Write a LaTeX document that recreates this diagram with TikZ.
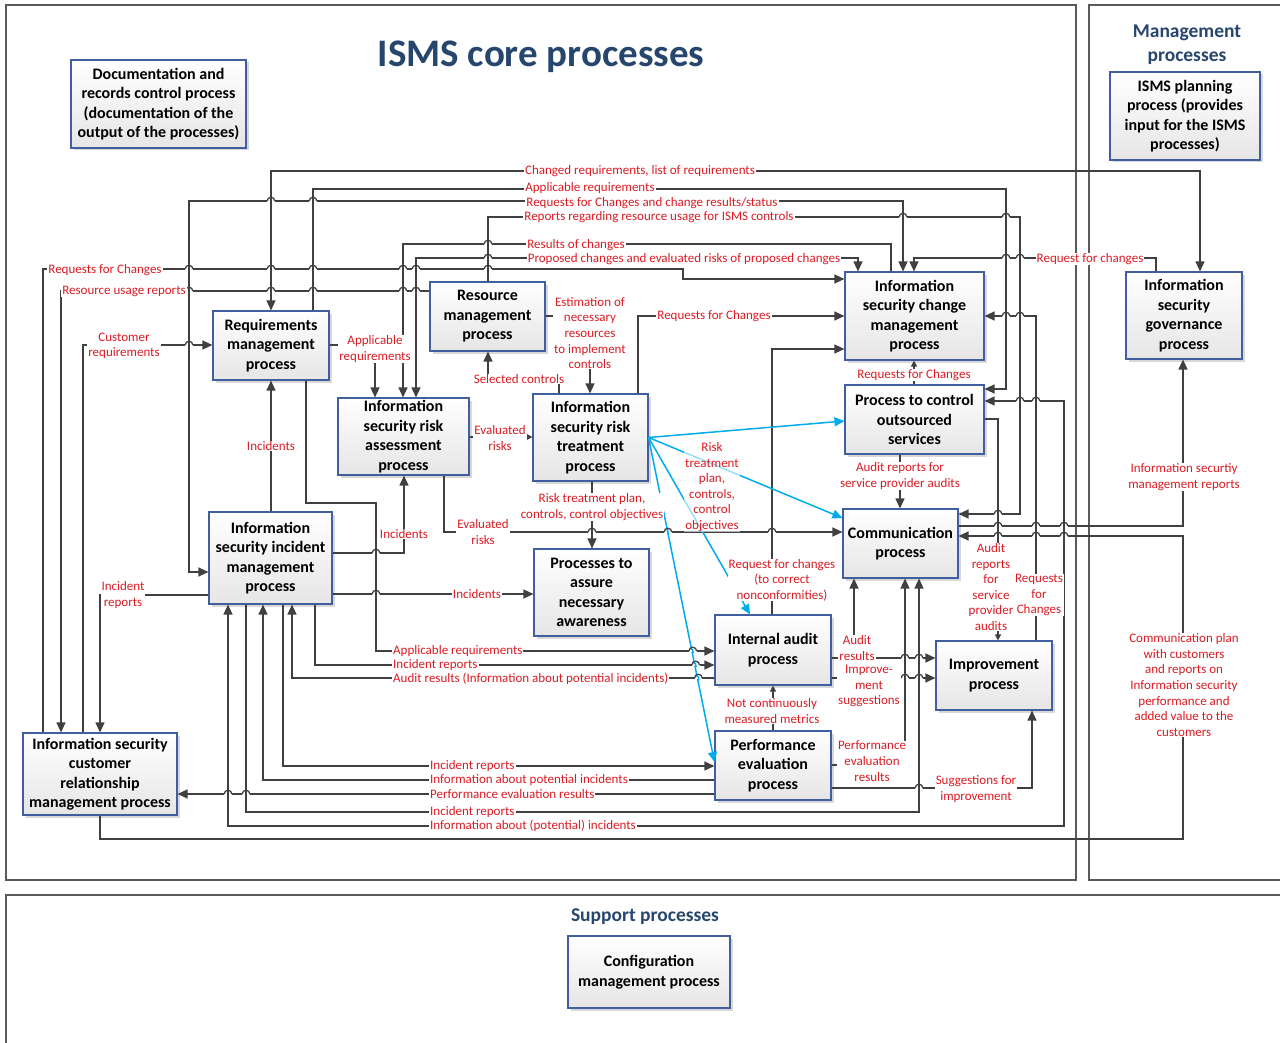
\documentclass[tikz,border=0pt]{standalone}
\usepackage{fontspec}
\setmainfont{Carlito}
\usetikzlibrary{arrows.meta,shadows}
\definecolor{lblc}{RGB}{218,28,36}
\definecolor{bxc}{RGB}{65,95,160}
\definecolor{lnc}{RGB}{64,64,64}
\definecolor{blc}{RGB}{0,172,236}
\definecolor{ttlc}{RGB}{38,70,110}
\definecolor{frc}{RGB}{90,90,90}
\tikzset{
  proc/.style={draw=bxc, line width=1.1pt, top color=white, bottom color=black!10, align=center,
    font=\fontsize{16}{19.5}\selectfont\bfseries, inner sep=0pt,
    drop shadow={shadow xshift=2.5pt, shadow yshift=-2.5pt, fill=black!30, opacity=0.5}},
  conn/.style={draw=lnc, line width=1.3pt},
  arr/.style={conn, -{Triangle[length=10pt,width=9pt]}},
  sarr/.style={conn, -{Triangle[length=6pt,width=6pt]}},
  darr/.style={conn, {Triangle[length=10pt,width=9pt]}-{Triangle[length=10pt,width=9pt]}},
  barr/.style={draw=blc, line width=1.5pt, -{Triangle[length=10pt,width=9pt]}},
  lab/.style={fill=white, inner xsep=1pt, inner ysep=0.3pt, text=lblc, font=\fontsize{13}{15.6}\selectfont, align=center},
  frm/.style={draw=frc, line width=1.3pt},
  hd/.style={text=ttlc, font=\fontsize{19.5}{24}\selectfont\bfseries, align=center}
}
\newcommand\hop[2]{%
  \fill[white] ({#1-3.8},{#2-1.3}) rectangle ({#1+3.8},{#2+1.3});
  \draw[conn] (#1,{#2-2}) -- (#1,{#2+2});
  \draw[draw=lnc, line width=1.3pt] ({#1-3.8},#2) arc[start angle=180,end angle=360,radius=3.8];}
\newcommand\bhop[2]{%
  \fill[white] ({#1-3.8},{#2-1.3}) rectangle ({#1+3.8},{#2+1.3});
  \draw[draw=blc, line width=1.5pt] ({#1-0.45},{#2-2}) -- ({#1+0.45},{#2+2});
  \draw[draw=lnc, line width=1.3pt] ({#1-3.8},#2) arc[start angle=180,end angle=360,radius=3.8];}
\begin{document}
\begin{tikzpicture}[x=1pt,y=-1pt]
\useasboundingbox (0,0) rectangle (1280,1043);
\clip (0,0) rectangle (1280,1043);
% frames
\draw[frm] (6,5) rectangle (1076,880);
\draw[frm] (1089,5) rectangle (1300,880);
\draw[frm] (6,895) rectangle (1300,1070);
% headings
\node[text=ttlc, font=\fontsize{39}{42}\selectfont\bfseries] (title) at (541,57) {ISMS core processes};
\node[hd] (mgmt) at (1187,45) {Management\\processes};
\node[hd] (supp) at (645,917) {Support processes};
% boxes
\node[proc, minimum width=175pt, minimum height=88pt] (docs) at (158.5,104) {Documentation and\\records control process\\(documentation of the\\output of the processes)};
\node[proc, minimum width=150pt, minimum height=88pt] (plan) at (1185,116) {ISMS planning\\process (provides\\input for the ISMS\\processes)};
\node[proc, minimum width=116pt, minimum height=69pt] (req) at (271,345.5) {Requirements\\management\\process};
\node[proc, minimum width=115pt, minimum height=69pt] (res) at (487.5,316.5) {Resource\\management\\process};
\node[proc, minimum width=131pt, minimum height=77pt] (assess) at (403.5,436.5) {Information\\security risk\\assessment\\process};
\node[proc, minimum width=115pt, minimum height=87pt] (treat) at (590.5,437.5) {Information\\security risk\\treatment\\process};
\node[proc, minimum width=139pt, minimum height=88pt] (change) at (914.5,316) {Information\\security change\\management\\process};
\node[proc, minimum width=139pt, minimum height=69pt] (outs) at (914.5,419.5) {Process to control\\outsourced\\services};
\node[proc, minimum width=116pt, minimum height=87pt] (gov) at (1184,315.5) {Information\\security\\governance\\process};
\node[proc, minimum width=115pt, minimum height=69pt] (comm) at (900.5,543.5) {Communication\\process};
\node[proc, minimum width=116pt, minimum height=69pt] (impr) at (994,675.5) {Improvement\\process};
\node[proc, minimum width=123pt, minimum height=92pt] (incid) at (270.5,558) {Information\\security incident\\management\\process};
\node[proc, minimum width=115pt, minimum height=87pt] (aware) at (591.5,592.5) {Processes to\\assure\\necessary\\awareness};
\node[proc, minimum width=116pt, minimum height=70pt] (audit) at (773,650) {Internal audit\\process};
\node[proc, minimum width=116pt, minimum height=69pt] (perf) at (773,765.5) {Performance\\evaluation\\process};
\node[proc, minimum width=154pt, minimum height=82pt] (cust) at (100,774) {Information security\\customer\\relationship\\management process};
\node[proc, minimum width=162pt, minimum height=72pt] (config) at (649,972) {Configuration\\management process};
% connectors
\draw[darr] (271,0 |- req.north) |- (1200,171) -- (1200,0 |- gov.north);
\draw[arr] (313,0 |- req.north) |- (1006,189) -- (1006,389) -- (outs.east |- 0,389);
\draw[darr] (incid.west |- 0,572) -| (189,201) -| (903,0 |- change.north);
\draw[arr] (488,0 |- res.north) |- (1020,217) |- (comm.east |- 0,514);
\draw[arr] (891,0 |- change.north) |- (403,244) -- (403,0 |- assess.north);
\draw[darr] (416,0 |- assess.north) |- (858,258) -- (858,0 |- change.north);
\draw[arr] (1156,0 |- gov.north) |- (914,258) -- (914,0 |- change.north);
\draw[arr] (43,0 |- cust.north) |- (683,269) |- (change.west |- 0,279);
\draw[arr] (res.west |- 0,291) -| (61,0 |- cust.north);
\draw[arr] (83,0 |- cust.north) |- (req.west |- 0,345);
\draw[arr] (req.east |- 0,345) -| (375,0 |- assess.north);
\draw[arr] (res.east |- 0,316) -| (590,0 |- treat.north);
\draw[arr] (559,0 |- treat.north) |- (488,379) -- (488,0 |- res.south);
\draw[arr] (638,0 |- treat.north) |- (change.west |- 0,316);
\draw[arr] (772,0 |- audit.north) |- (change.west |- 0,349);
\draw[sarr] (914,0 |- outs.north) -- (914,0 |- change.south);
\draw[arr] (900,0 |- outs.south) -- (900,0 |- comm.north);
\draw[sarr] (outs.east |- 0,419) -| (998,0 |- impr.north);
\draw[arr] (1036,0 |- impr.north) |- (change.east |- 0,316);
\draw[darr] (outs.east |- 0,401) -| (1064,826) -| (228,0 |- incid.south);
\draw[arr] (246,0 |- incid.south) |- (919,812) -- (919,0 |- comm.south);
\draw[arr] (perf.west |- 0,794) -- (cust.east |- 0,794);
\draw[arr] (perf.west |- 0,780) -| (263,0 |- incid.south);
\draw[arr] (283,0 |- incid.south) |- (perf.west |- 0,766);
\draw[arr] (100,0 |- cust.south) |- (1183,839) |- (comm.east |- 0,536);
\draw[arr] (comm.east |- 0,526) -| (1183,0 |- gov.south);
\draw[arr] (271,0 |- incid.north) -- (271,0 |- req.south);
\draw[arr] (incid.east |- 0,553) -| (404,0 |- assess.south);
\draw[arr] (incid.east |- 0,594) -- (aware.west |- 0,594);
\draw[arr] (306,0 |- req.south) |- (376,503) |- (audit.west |- 0,651);
\draw[arr] (315,0 |- incid.south) |- (audit.west |- 0,665);
\draw[arr] (audit.west |- 0,678) -| (292,0 |- incid.south);
\draw[sarr] (assess.east |- 0,437) -- (treat.west |- 0,437);
\draw[arr] (444,0 |- assess.south) |- (comm.west |- 0,532);
\draw[arr] (592,0 |- treat.south) -- (592,0 |- aware.north);
\draw[sarr] (773,0 |- perf.north) -- (773,0 |- audit.south);
\coordinate (j1) at (854,658);
\draw[conn] (audit.east |- 0,658) -- (j1);
\draw[arr] (j1) -- (854,0 |- comm.south);
\draw[arr] (j1) -- (impr.west |- 0,658);
\draw[arr] (audit.east |- 0,678) -- (impr.west |- 0,678);
\draw[arr] (perf.east |- 0,765) -| (905,0 |- comm.south);
\draw[arr] (perf.east |- 0,788) -| (1032,0 |- impr.south);
\draw[arr] (incid.west |- 0,595) -| (100,0 |- cust.north);
% blue connectors
\draw[barr] (treat.east) -- (outs.west |- 0,421);
\draw[barr] (treat.east) -- (comm.west |- 0,518);
\draw[barr] (treat.east) -- (750,0 |- audit.north);
\draw[barr] (treat.east) -- (perf.west |- 0,762);
% line jumps
\foreach \a/\b in {271/201,313/201,903/217,1006/217,488/244,488/258,1006/258,1020/258,
  189/269,271/269,313/269,403/269,416/269,488/269,189/291,271/291,313/291,403/291,416/291,
  1006/316,1020/316,189/345,1020/401,1036/401,998/514,998/526,1036/526,1064/526,
  998/536,1036/536,1064/536,592/532,772/532,376/553,376/594,905/658,919/658,905/678,919/678,
  919/788,228/794,246/794}{\hop{\a}{\b}}
\foreach \a/\b in {667.9/532,692.8/651,695.7/665,698.4/678}{\bhop{\a}{\b}}
% labels
\node[lab] at (640,171) {Changed requirements, list of requirements};
\node[lab] at (590,188) {Applicable requirements};
\node[lab] at (652,203) {Requests for Changes and change results/status};
\node[lab] at (659,217) {Reports regarding resource usage for ISMS controls};
\node[lab] at (576,245) {Results of changes};
\node[lab] at (684,259) {Proposed changes and evaluated risks of proposed changes};
\node[lab] at (1090,259) {Request for changes};
\node[lab] at (105,270) {Requests for Changes};
\node[lab] at (124,291) {Resource usage reports};
\node[lab] at (124,346) {Customer\\requirements};
\node[lab] at (375,349) {Applicable\\requirements};
\node[lab] at (590,333) {Estimation of\\necessary\\resources\\to implement\\controls};
\node[lab] at (714,316) {Requests for Changes};
\node[lab] at (519,379) {Selected controls};
\node[lab] at (914,375) {Requests for Changes};
\node[lab] at (271,446) {Incidents};
\node[lab] at (500,438) {Evaluated\\risks};
\node[lab, fill opacity=0.6, text opacity=1] at (712,487) {Risk\\treatment\\plan,\\controls,\\control\\objectives};
\node[lab] at (900,476) {Audit reports for\\service provider audits};
\node[lab] at (1184,477) {Information securtiy\\management reports};
\node[lab] at (592,507) {Risk treatment plan,\\controls, control objectives};
\node[lab] at (483,532) {Evaluated\\risks};
\node[lab] at (404,534) {Incidents};
\node[lab] at (991,587) {Audit\\reports\\for\\service\\provider\\audits};
\node[lab] at (1039,595) {Requests\\for\\Changes};
\node[lab] at (782,580) {Request for changes\\(to correct\\nonconformities)};
\node[lab] at (123,595) {Incident\\reports};
\node[lab] at (477,594) {Incidents};
\node[lab] at (1184,685) {Communication plan\\with customers\\and reports on\\Information security\\performance and\\added value to the\\customers};
\node[lab] at (857,648) {Audit\\results};
\node[lab] at (869,686) {Improve-\\ment\\suggestions};
\node[lab, anchor=west] at (392,651) {Applicable requirements};
\node[lab, anchor=west] at (392,665) {Incident reports};
\node[lab, anchor=west] at (392,679) {Audit results (Information about potential incidents)};
\node[lab] at (772,711) {Not continuously\\measured metrics};
\node[lab] at (872,761) {Performance\\evaluation\\results};
\node[lab] at (976,789) {Suggestions for\\improvement};
\node[lab, anchor=west] at (429,766) {Incident reports};
\node[lab, anchor=west] at (429,780) {Information about potential incidents};
\node[lab, anchor=west] at (429,794) {Performance evaluation results};
\node[lab, anchor=west] at (429,812) {Incident reports};
\node[lab, anchor=west] at (429,826) {Information about (potential) incidents};
\end{tikzpicture}
\end{document}
